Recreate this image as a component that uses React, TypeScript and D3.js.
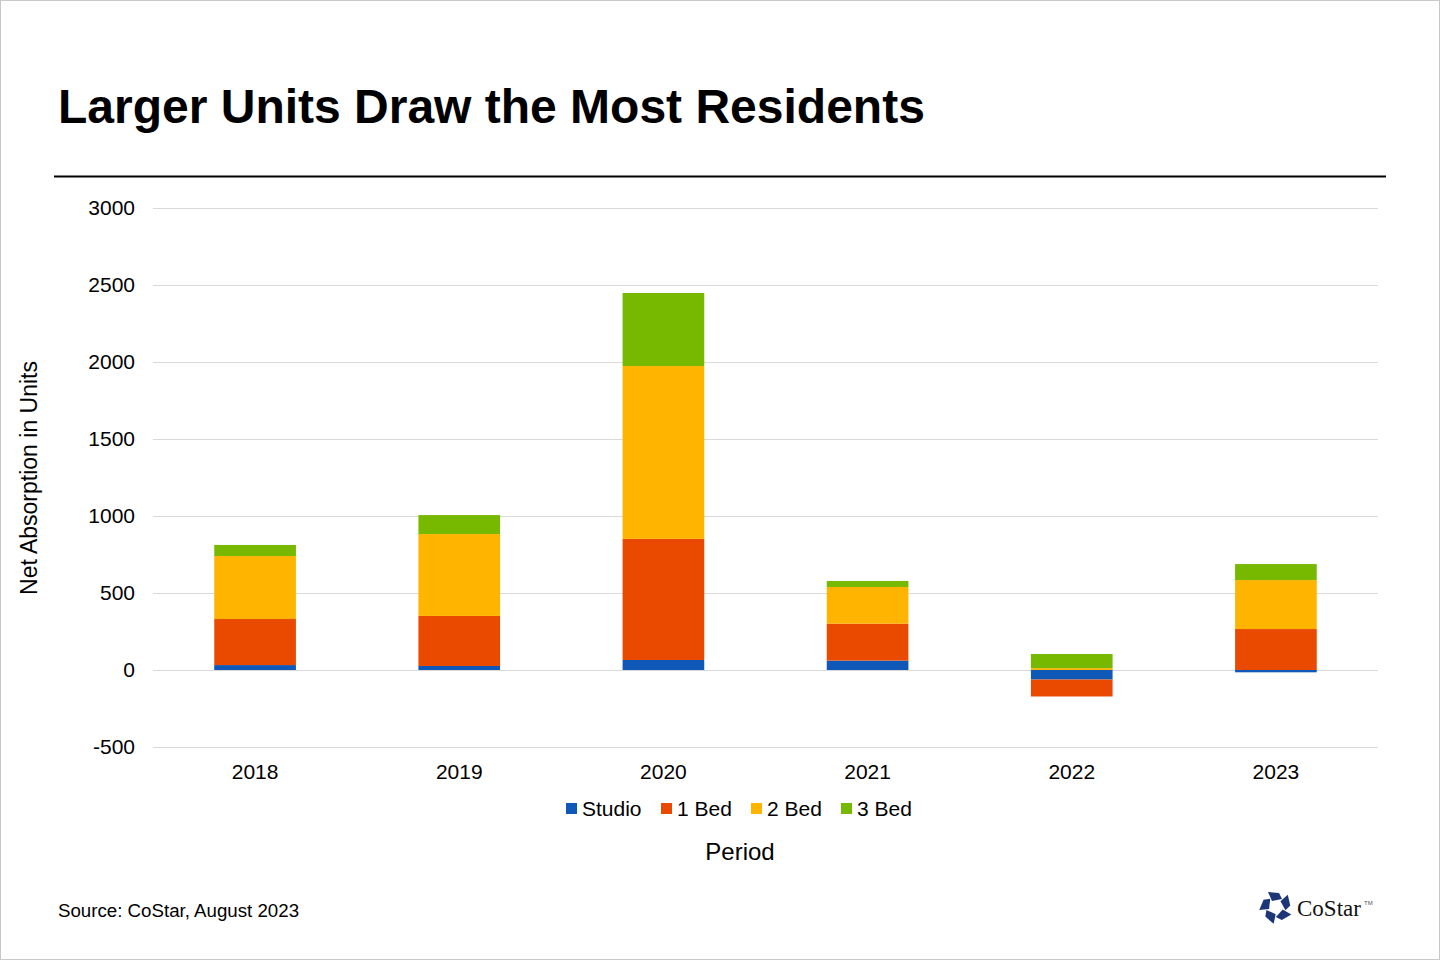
import * as d3 from "d3"

// Net absorption by unit type
const periods = ["2018", "2019", "2020", "2021", "2022", "2023"]
const seriesNames = ["Studio", "1 Bed", "2 Bed", "3 Bed"]
const studio = [32, 26, 65, 61, -62, -15]
const oneBed = [299, 325, 786, 240, -110, 266]
const twoBed = [409, 532, 1123, 238, 12, 318]
const threeBed = [72, 123, 474, 39, 92, 104]
const yTicks = [-500, 0, 500, 1000, 1500, 2000, 2500, 3000]
const colors = ["#1058B8", "#EA4A00", "#FFB500", "#77B900"]

const W = 1440
const H = 960
const FONT = "'Liberation Sans', Arial, sans-serif"

const margin = { left: 153, right: 1378, top: 208, bottom: 747 }

export default function App() {
  const rows = periods.map((p, i) => ({
    period: p,
    Studio: studio[i],
    "1 Bed": oneBed[i],
    "2 Bed": twoBed[i],
    "3 Bed": threeBed[i],
  }))

  const stack = d3.stack<any>().keys(seriesNames).offset(d3.stackOffsetDiverging)
  const layers = stack(rows)

  const x = d3.scaleBand().domain(periods).range([margin.left, margin.right]).paddingInner(0.6).paddingOuter(0.3)
  const y = d3.scaleLinear().domain([-500, 3000]).range([margin.bottom, margin.top])

  const legendItems = [
    { name: "Studio", x: 566 },
    { name: "1 Bed", x: 661 },
    { name: "2 Bed", x: 751 },
    { name: "3 Bed", x: 841 },
  ]

  // logo: five blue blades around a center
  const logoCx = 1276
  const logoCy = 907
  const blades = d3.range(5).map((i) => i * 72 - 90)

  return (
    <svg width={W} height={H} style={{ position: "absolute", left: 0, top: 0, background: "#fff" }} fontFamily={FONT}>
      <rect x={0.5} y={0.5} width={W - 1} height={H - 1} fill="#fff" stroke="#c8c8c8" />
      <text x={58} y={123} fontSize={48} fontWeight="bold" fill="#000">Larger Units Draw the Most Residents</text>
      <line x1={54} x2={1386} y1={176.5} y2={176.5} stroke="#000" strokeWidth={2} />

      {/* gridlines */}
      {yTicks.map((t) => (
        <g key={t}>
          <line x1={margin.left} x2={margin.right} y1={Math.round(y(t)) + 0.5} y2={Math.round(y(t)) + 0.5} stroke="#d9d9d9" strokeWidth={1} />
          <text x={135} y={y(t)} dy="0.35em" textAnchor="end" fontSize={21} fill="#000">{t}</text>
        </g>
      ))}

      {/* bars */}
      {layers.map((layer, si) => (
        <g key={layer.key} fill={colors[si]}>
          {layer.map((d, i) => {
            const y0 = y(Math.max(d[0], d[1]))
            const y1 = y(Math.min(d[0], d[1]))
            return <rect key={i} x={x(periods[i])} y={y0} width={x.bandwidth()} height={Math.max(0, y1 - y0)} />
          })}
        </g>
      ))}

      {/* x labels */}
      {periods.map((p) => (
        <text key={p} x={(x(p) as number) + x.bandwidth() / 2} y={779} textAnchor="middle" fontSize={21} fill="#000">{p}</text>
      ))}

      {/* legend */}
      {legendItems.map((it, i) => (
        <g key={it.name}>
          <rect x={it.x} y={803} width={11} height={11} fill={colors[i]} />
          <text x={it.x + 16} y={816} fontSize={21} fill="#000">{it.name}</text>
        </g>
      ))}

      <text x={740} y={860} textAnchor="middle" fontSize={24} fill="#000">Period</text>
      <text transform={`translate(37,478) rotate(-90)`} textAnchor="middle" fontSize={23} fill="#000">Net Absorption in Units</text>

      <text x={58} y={917} fontSize={18.7} fill="#000">Source: CoStar, August 2023</text>

      {/* CoStar logo */}
      <g fill="#1c3677">
        {blades.map((a) => (
          <path key={a} transform={`translate(${logoCx},${logoCy}) rotate(${a})`} d="M6,-4 L15,-8 L14,3 L8,6 Z" />
        ))}
      </g>
      <text x={1297} y={916} fontSize={23} fontFamily="'Liberation Serif', 'DejaVu Serif', serif" fill="#111">CoStar</text>
      <text x={1364} y={905} fontSize={6} fontFamily={FONT} fill="#555">TM</text>
    </svg>
  )
}
